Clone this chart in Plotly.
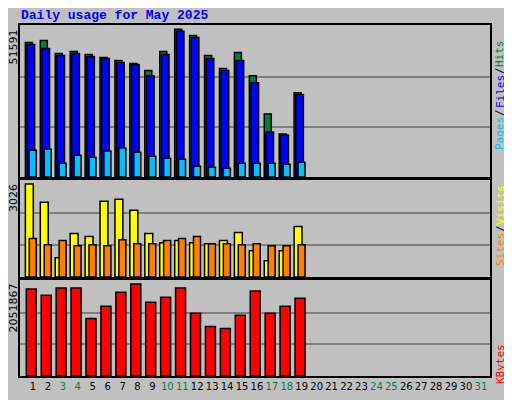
import plotly.graph_objects as go

days = list(range(1, 20))
all_days = list(range(1, 32))
weekend = [3, 4, 10, 11, 17, 18, 24, 25, 31]
hits = [46290,46980,42480,43170,42130,41090,40060,39020,36590,43170,50790,48710,41790,37290,42820,34860,21710,14780,28980]
files = [45590,44210,41790,42480,41440,40750,39360,38670,34860,42130,50100,48020,40750,36590,40060,32440,15480,14440,28280]
pages = [9240,9590,4740,7510,6820,8900,9940,8550,7170,6470,6130,3700,3360,3010,4740,4740,4740,4400,5090]
visits = [2930,2357,605,1370,1274,2389,2452,2102,1370,1083,1147,1083,1051,1147,1401,828,510,828,1593]
sites = [1210,1019,1147,987,1019,987,1178,1051,1051,1147,1210,1274,1051,1051,1019,1051,987,987,1019]
kbytes = [1877000,1746000,1899000,1899000,1244000,1506000,1812000,1987000,1594000,1703000,1899000,1353000,1070000,1026000,1310000,1834000,1353000,1506000,1681000]
max_hits, max_visits, max_kb = 51591, 3026, 2051867

GREEN, BLUE, CYAN = "#008040", "#0000FF", "#00C0FF"
YELLOW, ORANGE, RED = "#FFFF00", "#FF8000", "#FF0000"

OFF = 8
W, H = 512 - OFF, 400 - OFF
def px(X): return (X - OFF) / W
def py(Y): return 1 - (Y - OFF) / H

fig = go.Figure()
def bar(y, color, off, w, ax):
    fig.add_trace(go.Bar(x=days, y=y, offset=off, width=w, marker_color=color,
                         marker_line=dict(color="black", width=1.5),
                         xaxis="x" if ax == 1 else f"x{ax}", yaxis="y" if ax == 1 else f"y{ax}",
                         showlegend=False, hoverinfo="skip"))
bar(hits, GREEN, -0.51, 0.47, 1)
bar(files, BLUE, -0.40, 0.51, 1)
bar(pages, CYAN, -0.25, 0.47, 1)
bar(visits, YELLOW, -0.51, 0.53, 2)
bar(sites, ORANGE, -0.25, 0.47, 2)
bar(kbytes, RED, -0.45, 0.67, 3)

xr = [0.13, 31.61]
xd = [px(20), px(490)]
def yax(dom, top, mx):
    return dict(domain=dom, range=[0, top], tickvals=[mx/3, 2*mx/3], showticklabels=False,
                showgrid=True, gridcolor="#808080", gridwidth=2, zeroline=False,
                showline=True, linecolor="black", linewidth=2, mirror=True, ticks="")
xcommon = dict(range=xr, domain=xd, showgrid=False, zeroline=False, showline=True,
               linecolor="black", linewidth=2, mirror=True, ticks="")
ticktext = [f'<span style="color:{GREEN if d in weekend else "black"}">{d}</span>' for d in all_days]

fig.update_layout(
    width=W, height=H, margin=dict(l=0, r=0, t=0, b=0),
    paper_bgcolor="#C0C0C0", plot_bgcolor="#C0C0C0", barmode="overlay",
    xaxis=dict(**xcommon, anchor="y", showticklabels=False),
    xaxis2=dict(**xcommon, anchor="y2", showticklabels=False),
    xaxis3=dict(**xcommon, anchor="y3", tickvals=all_days, ticktext=ticktext, tickangle=0,
                tickfont=dict(family="DejaVu Sans", size=10, color="black")),
    yaxis=dict(**yax([py(177), py(25)], 52280, max_hits), anchor="x"),
    yaxis2=dict(**yax([py(277), py(180)], 3058, max_visits), anchor="x2"),
    yaxis3=dict(**yax([py(376), py(280)], 2074000, max_kb), anchor="x3"),
    font=dict(family="DejaVu Sans Mono"),
)
fig.add_annotation(text="<b>Daily usage for May 2025</b>", xref="paper", yref="paper",
                   x=px(19), y=py(15), xanchor="left", yanchor="middle", showarrow=False,
                   font=dict(family="Liberation Mono", size=13, color=BLUE))
for lbl, ytop in [(str(max_hits), 28), (str(max_visits), 182), (str(max_kb), 282)]:
    fig.add_annotation(text=lbl, xref="paper", yref="paper", x=px(13), y=py(ytop),
                       xanchor="center", yanchor="top", textangle=-90, showarrow=False,
                       font=dict(family="DejaVu Sans", size=11, color="black"))
rlabels = [
    ("Pages", CYAN, 134), ("/", "black", 113), ("Files", BLUE, 92), ("/", "black", 71), ("Hits", GREEN, 54),
    ("Sites", ORANGE, 250), ("/", "black", 229), ("Visits", YELLOW, 205),
    ("KBytes", RED, 364),
]
for t, c, yc in rlabels:
    fig.add_annotation(text=t, xref="paper", yref="paper", x=px(500), y=py(yc),
                       xanchor="center", yanchor="middle", textangle=-90, showarrow=False,
                       font=dict(family="DejaVu Sans Mono", size=11, color=c))
fig.write_html("out.html")
